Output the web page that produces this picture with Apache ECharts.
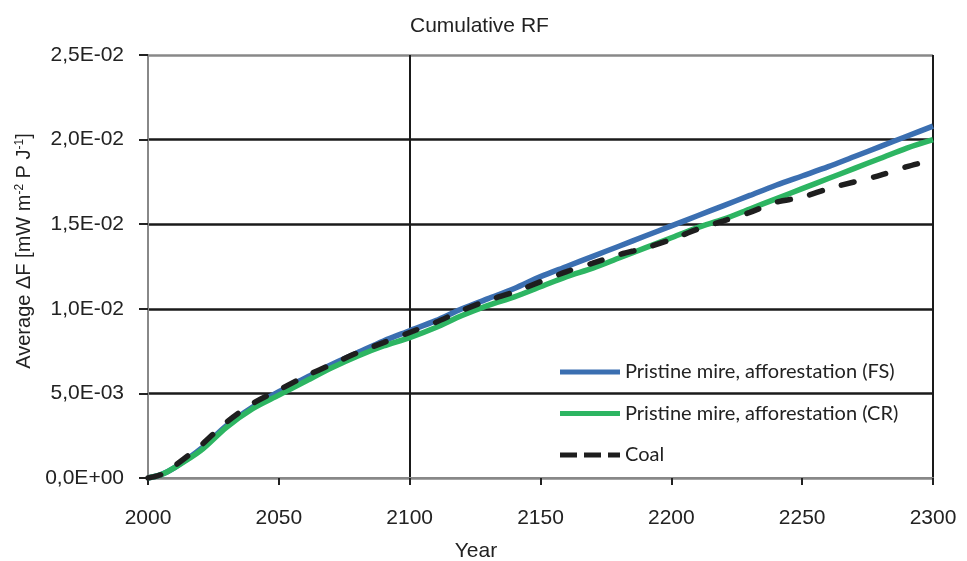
<!DOCTYPE html>
<html>
<head>
<meta charset="utf-8">
<script src="https://cdn.jsdelivr.net/npm/echarts@6/dist/echarts.min.js"></script>
<style>
  html, body { margin: 0; padding: 0; background: #fff; }
  #chart { width: 967px; height: 561px; }
</style>
</head>
<body>
<div id="chart"></div>
<script>
var years = [2000, 2005, 2010, 2020, 2030, 2040, 2050, 2060, 2070, 2080, 2090, 2100,
  2110, 2120, 2130, 2140, 2150, 2160, 2170, 2180, 2190, 2200,
  2210, 2220, 2230, 2240, 2250, 2260, 2270, 2280, 2290, 2300];

var pristineFS = [0, 0.0002, 0.0006, 0.0017, 0.0031, 0.0042, 0.0051, 0.0059, 0.0067, 0.0074, 0.0081, 0.0087,
  0.0093, 0.0100, 0.0106, 0.0112, 0.0119, 0.0125, 0.0131, 0.0137, 0.0143, 0.0149,
  0.0155, 0.0161, 0.0167, 0.0173, 0.01785, 0.0184, 0.0190, 0.0196, 0.0202, 0.0208];

var pristineCR = [0, 0.0002, 0.0006, 0.0016, 0.0030, 0.0041, 0.0049, 0.0057, 0.0065, 0.0072, 0.0078, 0.0083,
  0.0089, 0.0096, 0.0102, 0.0107, 0.0113, 0.0119, 0.0124, 0.0130, 0.0136, 0.0142,
  0.0148, 0.0153, 0.0159, 0.0165, 0.0171, 0.0177, 0.0183, 0.0189, 0.0195, 0.0200];

var coal = [0, 0.0002, 0.0007, 0.0019, 0.0033, 0.0044, 0.0052, 0.0060, 0.0067, 0.0074, 0.0080, 0.0086,
  0.0092, 0.0099, 0.0105, 0.0110, 0.0116, 0.0122, 0.0127, 0.0132, 0.0136, 0.0141,
  0.0147, 0.0152, 0.0157, 0.0163, 0.0166, 0.0171, 0.0175, 0.0179, 0.0184, 0.0188];

var seriesNames = ['Pristine mire, afforestation (FS)', 'Pristine mire, afforestation (CR)', 'Coal'];

function pairs(vals) {
  return years.map(function (y, i) { return [y, vals[i]]; });
}

function sciLabel(v) {
  if (v === 0) return '0,0E+00';
  var e = Math.floor(Math.log10(Math.abs(v)) + 1e-9);
  var m = v / Math.pow(10, e);
  var es = (e < 0 ? '-' : '+') + (Math.abs(e) < 10 ? '0' : '') + Math.abs(e);
  return m.toFixed(1).replace('.', ',') + 'E' + es;
}

var myChart = echarts.init(document.getElementById('chart'));
var font = 'Liberation Sans, Arial, sans-serif';
var dashIcon = 'path://M0,0h17v5h-17z M24,0h17v5h-17z M48,0h12v5h-12z';

option = {
  animation: false,
  title: {
    text: 'Cumulative RF',
    left: 405,
    top: 11,
    textStyle: { fontFamily: font, fontSize: 21, fontWeight: 'normal', color: '#222' }
  },
  grid: { left: 148, right: 34, top: 55, bottom: 83 },
  legend: {
    orient: 'vertical',
    left: 555,
    top: 357,
    itemWidth: 60,
    itemHeight: 5,
    itemGap: 21.5,
    textStyle: { fontFamily: 'Lato, sans-serif', fontSize: 20, color: '#222', lineHeight: 20 },
    data: [
      { name: seriesNames[0], icon: 'rect', itemStyle: { color: '#3b6fb1' } },
      { name: seriesNames[1], icon: 'rect', itemStyle: { color: '#2db562' } },
      { name: seriesNames[2], icon: dashIcon, itemStyle: { color: '#1e1e1e' } }
    ]
  },
  xAxis: {
    type: 'value',
    min: 2000,
    max: 2300,
    interval: 50,
    axisLine: { lineStyle: { color: '#888', width: 2 } },
    axisTick: { inside: false, length: 7, lineStyle: { color: '#222', width: 2 } },
    axisLabel: {
      margin: 30, fontFamily: font, fontSize: 21, color: '#222',
      formatter: function (v) { return String(v); }
    },
    splitLine: {
      show: true,
      lineStyle: {
        color: ['transparent', 'transparent', '#1a1a1a', 'transparent', 'transparent', 'transparent', '#1a1a1a'],
        width: 2
      }
    }
  },
  yAxis: {
    type: 'value',
    min: 0,
    max: 0.025,
    interval: 0.005,
    axisLine: { show: true, lineStyle: { color: '#888', width: 2 } },
    axisTick: { show: true, inside: false, length: 9, lineStyle: { color: '#222', width: 2 } },
    axisLabel: {
      margin: 24, fontFamily: font, fontSize: 21, color: '#222',
      padding: [7, 0, 0, 0], formatter: sciLabel
    },
    splitLine: {
      show: true,
      lineStyle: {
        color: ['#888', '#1a1a1a', '#1a1a1a', '#1a1a1a', '#1a1a1a', '#888'],
        width: 2.5
      }
    }
  },
  graphic: [
    {
      type: 'text',
      x: 24,
      y: 251,
      rotation: Math.PI / 2,
      style: {
        text: 'Average ΔF [mW m{sup|-2} P J{sup|-1}]',
        fontFamily: font,
        fontSize: 20,
        fill: '#222',
        align: 'center',
        verticalAlign: 'middle',
        rich: { sup: { fontFamily: font, fontSize: 12, verticalAlign: 'top', fill: '#222' } }
      }
    },
    {
      type: 'text',
      x: 476,
      y: 551,
      style: {
        text: 'Year',
        fontFamily: font,
        fontSize: 21,
        fill: '#222',
        align: 'center',
        verticalAlign: 'middle'
      }
    }
  ],
  series: [
    {
      name: seriesNames[0],
      type: 'line',
      symbol: 'none',
      smooth: 0.3,
      data: pairs(pristineFS),
      lineStyle: { color: '#3b6fb1', width: 5.5 },
      itemStyle: { color: '#3b6fb1' },
      z: 2
    },
    {
      name: seriesNames[1],
      type: 'line',
      symbol: 'none',
      smooth: 0.3,
      data: pairs(pristineCR),
      lineStyle: { color: '#2db562', width: 5.5 },
      itemStyle: { color: '#2db562' },
      z: 3
    },
    {
      name: seriesNames[2],
      type: 'line',
      symbol: 'none',
      smooth: 0.3,
      data: pairs(coal),
      lineStyle: { color: '#1e1e1e', width: 5.5, type: [13, 20], cap: 'round' },
      itemStyle: { color: '#1e1e1e' },
      z: 4
    }
  ]
};

myChart.setOption(option);
</script>
</body>
</html>
